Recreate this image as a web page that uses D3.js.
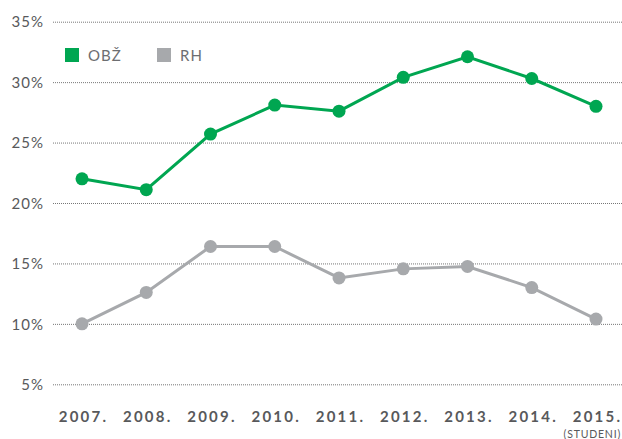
<!DOCTYPE html>
<html>
<head>
<meta charset="utf-8">
<script src="https://cdn.jsdelivr.net/npm/d3@7"></script>
<style>
  body { margin: 0; background: #fff; }
  text { font-family: Lato, "Open Sans", sans-serif; }
</style>
</head>
<body>
<script>
// chart data
var years = ["2007.", "2008.", "2009.", "2010.", "2011.", "2012.", "2013.", "2014.", "2015."];
var obz = [22.0, 21.1, 25.7, 28.1, 27.6, 30.4, 32.1, 30.3, 28.0];
var rh = [10.0, 12.6, 16.4, 16.4, 13.8, 14.55, 14.75, 13.0, 10.4];
var yTicks = [5, 10, 15, 20, 25, 30, 35];
var seriesNames = ["OBŽ", "RH"];

var width = 622, height = 439;
var green = "#00a651", grey = "#a7a9ac";

var svg = d3.select("body").append("svg")
    .attr("width", width)
    .attr("height", height);

var x = d3.scalePoint().domain(years).range([82, 596]);
var y = d3.scaleLinear().domain([5, 35]).range([384.3, 21.7]);

// grid lines + y labels
var yAxis = d3.axisLeft(y)
    .tickValues(yTicks)
    .tickSize(-(width - 53))
    .tickFormat(function(d) { return d + "%"; });

var gy = svg.append("g")
    .attr("transform", "translate(53,0)")
    .call(yAxis);
gy.select(".domain").remove();
gy.selectAll(".tick line")
    .attr("stroke", "#777")
    .attr("stroke-width", 1)
    .attr("stroke-dasharray", "1,1");
gy.selectAll(".tick text")
    .attr("x", -9)
    .attr("dy", "0.35em")
    .attr("fill", "#58595b")
    .attr("font-size", "15px")
    .attr("letter-spacing", "1px");

// x labels
var xAxis = d3.axisBottom(x).tickSize(0);
var gx = svg.append("g")
    .attr("transform", "translate(0,408)")
    .call(xAxis);
gx.select(".domain").remove();
gx.selectAll(".tick text")
    .attr("dx", "1px")
    .attr("fill", "#58595b")
    .attr("font-size", "15px")
    .attr("font-weight", "bold")
    .attr("letter-spacing", "2.2px");

svg.append("text")
    .attr("x", 621)
    .attr("y", 438)
    .attr("text-anchor", "end")
    .attr("fill", "#58595b")
    .attr("font-size", "10.5px")
    .attr("letter-spacing", "0.8px")
    .text("(STUDENI)");

var line = d3.line()
    .x(function(d, i) { return x(years[i]); })
    .y(function(d) { return y(d); });

function drawSeries(data, color) {
  svg.append("path")
      .datum(data)
      .attr("fill", "none")
      .attr("stroke", color)
      .attr("stroke-width", 3)
      .attr("d", line);
  svg.selectAll(null)
      .data(data)
      .enter()
    .append("circle")
      .attr("cx", function(d, i) { return x(years[i]); })
      .attr("cy", function(d) { return y(d); })
      .attr("r", 6.5)
      .attr("fill", color);
}

drawSeries(rh, grey);
drawSeries(obz, green);

// legend
var legend = svg.selectAll(".legend")
    .data(seriesNames)
    .enter()
  .append("g")
    .attr("class", "legend")
    .attr("transform", function(d, i) { return "translate(" + (65 + i * 92) + ",48)"; });

legend.append("rect")
    .attr("width", 14)
    .attr("height", 14)
    .attr("fill", function(d, i) { return i === 0 ? green : grey; });

legend.append("text")
    .attr("x", 23)
    .attr("y", 13)
    .attr("fill", "#6d6e71")
    .attr("font-size", "15px")
    .attr("letter-spacing", "1px")
    .text(function(d) { return d; });
</script>
</body>
</html>
